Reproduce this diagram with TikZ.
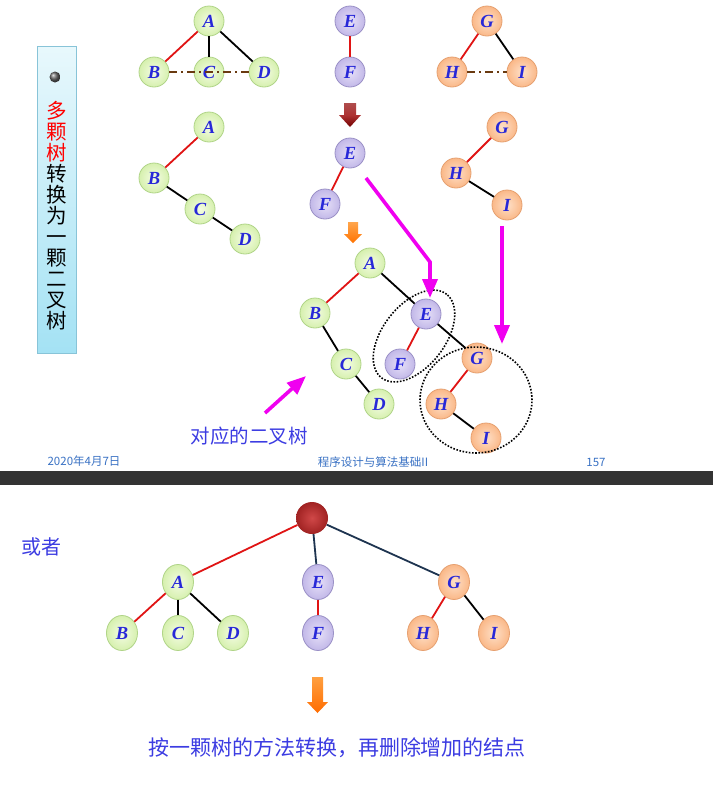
\documentclass[tikz,border=0pt]{standalone}
\usepackage{fontspec}
\setmainfont{Liberation Serif}
\newfontfamily\cjk{Noto Sans CJK SC}
\usetikzlibrary{positioning, arrows.meta, shapes.geometric}
\definecolor{grnin}{HTML}{F4FCE4}
\definecolor{grnout}{HTML}{D6F0AE}
\definecolor{grnline}{HTML}{B0D488}
\definecolor{purin}{HTML}{E6E0F8}
\definecolor{purout}{HTML}{C2B8E8}
\definecolor{purline}{HTML}{9A90C6}
\definecolor{orgin}{HTML}{FEE0C8}
\definecolor{orgout}{HTML}{FAB888}
\definecolor{orgline}{HTML}{E6A070}
\definecolor{lblue}{HTML}{2828D8}
\definecolor{txtblue}{HTML}{3C3CE2}
\definecolor{footblue}{HTML}{3A72C4}
\definecolor{edgered}{HTML}{E01414}
\definecolor{brn}{HTML}{6A3A10}
\definecolor{navy}{HTML}{1E3450}
\definecolor{mag}{HTML}{F000F0}
\definecolor{boxtop}{HTML}{E8F8FC}
\definecolor{boxbot}{HTML}{A4E2F4}
\definecolor{boxline}{HTML}{88C4D8}
\definecolor{rootin}{HTML}{D04848}
\definecolor{rootout}{HTML}{A02222}

\begin{document}
\begin{tikzpicture}[x=1pt, y=-1pt,
    vertex/.style={circle, minimum size=30pt, inner sep=0pt, line width=0.8pt,
        font=\fontsize{18.5}{18.5}\selectfont\bfseries\itshape, text=lblue},
    gnode/.style={vertex, draw=grnline, inner color=grnin, outer color=grnout},
    pnode/.style={vertex, draw=purline, inner color=purin, outer color=purout},
    onode/.style={vertex, draw=orgline, inner color=orgin, outer color=orgout},
    tall/.style={ellipse, minimum width=31pt, minimum height=35pt},
    redge/.style={draw=edgered, line width=1.8pt},
    kedge/.style={draw=black, line width=1.8pt},
    nedge/.style={draw=navy, line width=1.8pt},
    dedge/.style={draw=brn, line width=1.8pt, dash pattern=on 8pt off 4pt on 2pt off 4pt},
    hint/.style={draw=mag, line width=3.6pt, -{Triangle[length=19pt, width=15pt]}},
    ring/.style={draw, line width=1.6pt, dash pattern=on 1.6pt off 1.6pt},
    cn/.style={font=\cjk\fontsize{19.5}{19.5}\selectfont, text=txtblue},
    foot/.style={font=\cjk\fontsize{11.5}{11.5}\selectfont, text=footblue}
]
    \useasboundingbox (0,0) rectangle (713,793);
    \fill[white] (0,0) rectangle (713,793);

    % side title
    \node[draw=boxline, line width=0.8pt, top color=boxtop, bottom color=boxbot,
        minimum width=39pt, minimum height=307pt] (sidebox) at (56.5,199.5) {};
    \node[circle, ball color=black!60, minimum size=11pt, inner sep=0pt] (dot) at (55,77) {};
    \node[font=\cjk\fontsize{20.5}{21}\selectfont, align=center, inner sep=0pt] (title) at (57,216)
        {\textcolor{red}{多}\\\textcolor{red}{颗}\\\textcolor{red}{树}\\转\\换\\为\\一\\颗\\二\\叉\\树};

    % three trees
    \node[gnode] (a1) at (209,21) {A};
    \node[gnode] (b1) at (154,72) {B};
    \node[gnode] (c1) at (209,72) {C};
    \node[gnode] (d1) at (264,72) {D};
    \node[pnode] (e1) at (350,21) {E};
    \node[pnode] (f1) at (350,72) {F};
    \node[onode] (g1) at (487,21) {G};
    \node[onode] (h1) at (452,72) {H};
    \node[onode] (i1) at (522,72) {I};

    \path (a1) edge[redge] (b1) edge[kedge] (c1) edge[kedge] (d1)
          (e1) edge[redge] (f1)
          (g1) edge[redge] (h1) edge[kedge] (i1);
    \path (b1.east) edge[dedge] (d1.west)
          (h1.east) edge[dedge] (i1.west);

    % each tree turned
    \node[gnode] (a2) at (209,127) {A};
    \node[gnode] (b2) at (154,178) {B};
    \node[gnode] (c2) at (200,209) {C};
    \node[gnode] (d2) at (245,239) {D};
    \node[pnode] (e2) at (350,153) {E};
    \node[pnode] (f2) at (325,204) {F};
    \node[onode] (g2) at (502,127) {G};
    \node[onode] (h2) at (456,173) {H};
    \node[onode] (i2) at (507,205) {I};

    \path (a2) edge[redge] (b2)
          (b2) edge[kedge] (c2)
          (c2) edge[kedge] (d2)
          (e2) edge[redge] (f2)
          (g2) edge[redge] (h2)
          (h2) edge[kedge] (i2);

    % block arrows
    \shade[top color=red!55!black!70, bottom color=red!45!black, middle color=red!60!black!80]
        (344,103) -- (356,103) -- (356,115) -- (361,115) -- (350,127) -- (339,115) -- (344,115) -- cycle;
    \shade[top color=orange!70, bottom color=orange!90!red]
        (348,222) -- (358,222) -- (358,234) -- (362,234) -- (353,243) -- (344,234) -- (348,234) -- cycle;

    % binary tree
    \node[gnode] (a3) at (370,263) {A};
    \node[gnode] (b3) at (315,313) {B};
    \node[gnode] (c3) at (346,364) {C};
    \node[gnode] (d3) at (379,404) {D};
    \node[pnode] (e3) at (426,314) {E};
    \node[pnode] (f3) at (400,364) {F};
    \node[onode] (g3) at (477,358) {G};
    \node[onode] (h3) at (441,404) {H};
    \node[onode] (i3) at (486,438) {I};

    \path (a3) edge[redge] (b3) edge[kedge] (e3)
          (b3) edge[kedge] (c3)
          (c3) edge[kedge] (d3)
          (e3) edge[redge] (f3) edge[kedge] (g3)
          (g3) edge[redge] (h3)
          (h3) edge[kedge] (i3);

    \node[ring, ellipse, minimum width=106pt, minimum height=62pt, rotate=52] (efring) at (414,336) {};
    \node[ring, ellipse, minimum width=112pt, minimum height=106pt] (ghiring) at (476,400) {};

    % pointers
    \coordinate (p1) at (366,178);
    \coordinate (p2) at (430,262);
    \coordinate (p3) at (430,298);
    \coordinate (q1) at (502,226);
    \coordinate (q2) at (502,344);
    \coordinate (s1) at (265,413);
    \coordinate (s2) at (306,376);
    \draw[hint] (p1) -- (p2) -- (p3);
    \draw[hint] (q1) -- (q2);
    \draw[hint] (s1) -- (s2);

    \node[cn] (bintxt) at (249,436) {对应的二叉树};

    % footer
    \node[foot] (date) at (84,461) {2020年4月7日};
    \node[foot] (course) at (373,462) {程序设计与算法基础II};
    \node[foot] (page) at (596,462) {157};
    \fill[black!80] (0,471) rectangle (713,485);

    % or else
    \node[cn, font=\cjk\fontsize{20}{20}\selectfont] (orelse) at (41,547) {或者};
    \node[circle, minimum size=32pt, inner sep=0pt, inner color=rootin, outer color=rootout] (r4) at (312,518) {};
    \node[gnode, tall] (a4) at (178,582) {A};
    \node[gnode, tall] (b4) at (122,633) {B};
    \node[gnode, tall] (c4) at (178,633) {C};
    \node[gnode, tall] (d4) at (233,633) {D};
    \node[pnode, tall] (e4) at (318,582) {E};
    \node[pnode, tall] (f4) at (318,633) {F};
    \node[onode, tall] (g4) at (454,582) {G};
    \node[onode, tall] (h4) at (423,633) {H};
    \node[onode, tall] (i4) at (494,633) {I};

    \path (r4) edge[redge] (a4) edge[nedge] (e4) edge[nedge] (g4)
          (a4) edge[redge] (b4) edge[kedge] (c4) edge[kedge] (d4)
          (e4) edge[redge] (f4)
          (g4) edge[redge] (h4) edge[kedge] (i4);

    \shade[top color=orange!75, bottom color=orange!85!red]
        (312,677) -- (323,677) -- (323,702) -- (328,702) -- (317.5,713) -- (307,702) -- (312,702) -- cycle;

    \node[cn, font=\cjk\fontsize{21}{21}\selectfont] (method) at (337,748) {按一颗树的方法转换，再删除增加的结点};
\end{tikzpicture}
\end{document}
